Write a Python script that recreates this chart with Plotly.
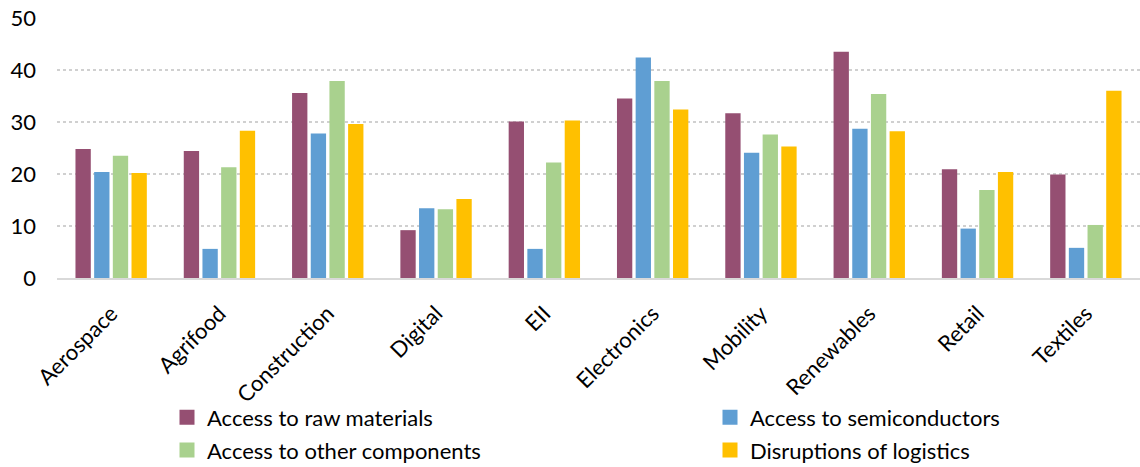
import plotly.graph_objects as go

categories = ["Aerospace", "Agrifood", "Construction", "Digital", "EII",
              "Electronics", "Mobility", "Renewables", "Retail", "Textiles"]
raw_materials = [24.8, 24.4, 35.6, 9.2, 30.1, 34.5, 31.7, 43.5, 20.9, 19.9]
semiconductors = [20.4, 5.6, 27.8, 13.4, 5.6, 42.4, 24.1, 28.7, 9.5, 5.8]
other_components = [23.5, 21.3, 37.9, 13.2, 22.2, 37.9, 27.6, 35.4, 16.9, 10.2]
logistics = [20.2, 28.3, 29.6, 15.2, 30.3, 32.4, 25.3, 28.2, 20.4, 36.0]

series = [
    ("Access to raw materials", raw_materials, "#954F72", "legend", "a"),
    ("Access to semiconductors", semiconductors, "#5F9ED3", "legend2", "b"),
    ("Access to other components", other_components, "#A9D18E", "legend", "c"),
    ("Disruptions of logistics", logistics, "#FFC000", "legend2", "d"),
]

FONT = "Lato"
fig = go.Figure()
for name, vals, color, leg, grp in series:
    fig.add_trace(go.Bar(
        x=categories, y=vals, name=name, legendgroup=grp, showlegend=False,
        marker=dict(color=color, line=dict(width=0)),
    ))
# legend-only entries with larger square swatches
for name, vals, color, leg, grp in series:
    fig.add_trace(go.Scatter(
        x=[None], y=[None], mode="markers", name=name, legend=leg, legendgroup=grp,
        marker=dict(symbol="square", size=15, color=color),
    ))

legend_common = dict(
    orientation="v", font=dict(family=FONT, size=22, color="#000000"),
    bgcolor="rgba(0,0,0,0)", borderwidth=0, tracegroupgap=1,
    itemclick=False, yanchor="top", xanchor="left",
)
fig.update_layout(
    width=1140, height=467,
    margin=dict(l=57, r=0, t=18, b=189, autoexpand=False),
    paper_bgcolor="white", plot_bgcolor="white",
    barmode="group", bargap=0.31, bargroupgap=0.18,
    font=dict(family=FONT, size=22, color="#000000"),
    legend=dict(x=(167 - 57) / 1083, y=-0.456, **legend_common),
    legend2=dict(x=(710 - 57) / 1083, y=-0.456, **legend_common),
    xaxis=dict(
        tickangle=-45, tickfont=dict(family=FONT, size=22, color="#000000"),
        showline=True, linecolor="#D9D9D9", linewidth=2,
        showgrid=False, ticks="", ticklabelstandoff=12, automargin=False,
    ),
    yaxis=dict(
        range=[0, 50], dtick=10, tickfont=dict(family=FONT, size=22, color="#000000"),
        showgrid=True, gridcolor="#D0D0D0", griddash="dot", gridwidth=1.5,
        zeroline=False, showline=False, ticks="", ticklabelstandoff=20,
        automargin=False,
    ),
)

fig.write_html("out.html")
